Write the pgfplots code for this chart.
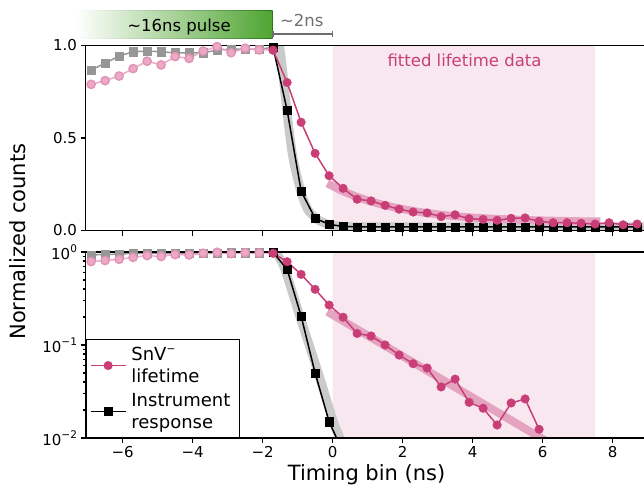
\documentclass[border=0pt]{standalone}
\usepackage{fontspec}
\setmainfont{DejaVu Sans}
\usepackage{pgfplots}
\pgfplotsset{compat=1.18}

\definecolor{pinkdark}{RGB}{201,62,119}
\definecolor{pinklight}{RGB}{236,170,198}
\definecolor{pinkedge}{RGB}{226,148,183}
\definecolor{graysq}{RGB}{150,150,150}
\definecolor{regionpink}{RGB}{249,231,239}
\definecolor{bandpink}{RGB}{228,163,192}
\definecolor{bandgray}{RGB}{202,202,202}
\definecolor{boxgreen}{RGB}{80,165,50}
\definecolor{boxedge}{RGB}{40,120,25}
\definecolor{annogray}{RGB}{110,110,110}

\newcommand{\sups}[1]{\raisebox{0.45em}{\fontsize{10.5}{10.5}\selectfont #1}}

\pgfplotsset{
  panel/.style={
    scale only axis, width=562.1pt, xmin=-7.06, xmax=9.0,
    axis on top,
    axis line style={line width=1.5pt},
    tick style={line width=1.1pt, black},
    major tick length=5pt, minor tick length=3pt,
    tick align=outside, tick pos=left,
    xtick={-6,-4,-2,0,2,4,6,8},
    tick label style={font=\fontsize{15}{18}\selectfont},
  },
  irf/.style={black, line width=1.5pt, mark=square*, mark size=4.1pt, mark options={line width=0.4pt}},
  snv/.style={pinkdark, line width=1.5pt, mark=*, mark size=4.3pt, mark options={line width=0.4pt}},
  pre/.style={line width=1.5pt, mark size=4.1pt, mark options={line width=0.6pt}},
}

\begin{document}
\begin{tikzpicture}

% upper panel, linear scale
\begin{axis}[panel, at={(85.5pt,-45.5pt)}, anchor=north west, height=185pt,
  ymin=0, ymax=1, ytick={0,0.5,1}, yticklabels={0.0,0.5,1.0}, xticklabels={}]
\addplot[draw=none, fill=regionpink, forget plot] coordinates {(0,0) (7.5,0) (7.5,1) (0,1) (0,0)};
\addplot[bandgray, line width=9pt, smooth, tension=0.4, forget plot] coordinates {
  (-1.85,1.2) (-1.52,1.0) (-1.31,0.65) (-1.14,0.40) (-0.91,0.213) (-0.70,0.11)
  (-0.41,0.057) (-0.08,0.03) (0.3,0.022) (1.0,0.02) (9.0,0.02)};
\addplot[bandpink, line width=8pt, forget plot] coordinates {
  (-0.15,0.255) (0.25,0.216) (0.65,0.185) (1.05,0.159) (1.45,0.138) (1.85,0.121)
  (2.25,0.107) (2.65,0.095) (3.05,0.086) (3.45,0.078) (3.85,0.072) (4.25,0.067)
  (4.65,0.063) (5.05,0.060) (5.45,0.057) (5.85,0.055) (6.25,0.053) (6.65,0.0515)
  (7.05,0.050) (7.45,0.049) (7.65,0.049)};
\addplot[pre, graysq, mark=square*, forget plot] coordinates {
  (-6.9,0.868) (-6.5,0.904) (-6.1,0.943) (-5.7,0.966) (-5.3,0.970) (-4.9,0.966)
  (-4.5,0.960) (-4.1,0.960) (-3.7,0.960) (-3.3,0.976) (-2.9,0.980) (-2.5,0.980)
  (-2.1,0.980) (-1.7,0.990)};
\addplot[pre, pinklight, mark=*, mark options={fill=pinklight, draw=pinkedge}, forget plot] coordinates {
  (-6.9,0.790) (-6.5,0.810) (-6.1,0.835) (-5.7,0.875) (-5.3,0.915) (-4.9,0.895)
  (-4.5,0.940) (-4.1,0.930) (-3.7,0.970) (-3.3,0.994) (-2.9,0.961) (-2.5,0.985)
  (-2.1,0.976) (-1.7,0.976)};
\addplot[irf, forget plot] coordinates {
  (-1.7,0.99) (-1.3,0.651) (-0.9,0.213) (-0.5,0.066) (-0.1,0.033) (0.3,0.022)
  (0.7,0.02) (1.1,0.02) (1.5,0.02) (1.9,0.02) (2.3,0.02) (2.7,0.02) (3.1,0.02)
  (3.5,0.02) (3.9,0.02) (4.3,0.02) (4.7,0.02) (5.1,0.02) (5.5,0.02) (5.9,0.02)
  (6.3,0.02) (6.7,0.02) (7.1,0.02) (7.5,0.02) (7.9,0.02) (8.3,0.02) (8.7,0.02)};
\addplot[snv, forget plot] coordinates {
  (-1.7,0.975) (-1.3,0.80) (-0.9,0.585) (-0.5,0.417) (-0.1,0.296) (0.3,0.228)
  (0.7,0.169) (1.1,0.160) (1.5,0.136) (1.9,0.115) (2.3,0.100) (2.7,0.095)
  (3.1,0.075) (3.5,0.085) (3.9,0.064) (4.3,0.060) (4.7,0.055) (5.1,0.066)
  (5.5,0.068) (5.9,0.050) (6.3,0.042) (6.7,0.042) (7.1,0.039) (7.5,0.035)
  (7.9,0.042) (8.3,0.031) (8.7,0.035)};
\node[anchor=base, text=pinkdark, font=\fontsize{16.5}{19}\selectfont] at (axis cs:3.77,0.885) {fitted lifetime data};
\end{axis}

% lower panel, log scale
\begin{axis}[panel, at={(85.5pt,-252pt)}, anchor=north west, height=186pt,
  ymode=log, ymin=0.01, ymax=1, ytick={0.01,0.1,1},
  yticklabels={10\sups{−2},10\sups{−1},10\sups{0}},
  xticklabels={−6,−4,−2,0,2,4,6,8},
  xlabel={Timing bin (ns)},
  xlabel style={font=\fontsize{21}{25}\selectfont},
  legend style={at={(0,0)}, anchor=south west, draw=black, line width=0.8pt, fill=white,
    inner xsep=4pt, inner ysep=7pt, row sep=7pt,
    nodes={font=\fontsize{18}{22}\selectfont, inner xsep=5pt, inner ysep=1pt},
    cells={align=left, anchor=west}},
  legend cell align=left,
  legend image code/.code={\draw[mark repeat=2,mark phase=2,#1,line width=1.5pt] plot coordinates {(0pt,0pt) (17.5pt,0pt) (35pt,0pt)};}]
\addlegendimage{snv}
\addlegendentry{SnV\sups{−}\\lifetime}
\addlegendimage{irf}
\addlegendentry{Instrument\\response}
\addplot[draw=none, fill=regionpink, forget plot] coordinates {(0,0.01) (7.5,0.01) (7.5,1) (0,1) (0,0.01)};
\addplot[bandgray, line width=9pt, smooth, tension=0.4, forget plot] coordinates {
  (-1.8,1.2) (-1.55,0.9) (-1.36,0.65) (-0.93,0.2) (-0.41,0.05) (0.02,0.015)
  (0.19,0.0104) (0.4,0.006)};
\addplot[bandpink, line width=8pt, forget plot] coordinates {(-0.15,0.228) (7.65,0.0042)};
\addplot[pre, graysq, mark=square*, forget plot] coordinates {
  (-6.9,0.93) (-6.5,0.94) (-6.1,0.95) (-5.7,0.966) (-5.3,0.970) (-4.9,0.966)
  (-4.5,0.960) (-4.1,0.960) (-3.7,0.960) (-3.3,0.976) (-2.9,0.980) (-2.5,0.980)
  (-2.1,0.980) (-1.7,0.990)};
\addplot[pre, pinklight, mark=*, mark options={fill=pinklight, draw=pinkedge}, forget plot] coordinates {
  (-6.9,0.790) (-6.5,0.810) (-6.1,0.835) (-5.7,0.875) (-5.3,0.915) (-4.9,0.895)
  (-4.5,0.940) (-4.1,0.930) (-3.7,0.970) (-3.3,0.994) (-2.9,0.961) (-2.5,0.985)
  (-2.1,0.976) (-1.7,0.976)};
\addplot[irf, forget plot] coordinates {
  (-1.7,0.99) (-1.3,0.652) (-0.9,0.205) (-0.5,0.050) (-0.1,0.015) (0.3,0.007)};
\addplot[snv, forget plot] coordinates {
  (-1.7,0.97) (-1.3,0.787) (-0.9,0.575) (-0.5,0.397) (-0.1,0.269) (0.3,0.199)
  (0.7,0.133) (1.1,0.125) (1.5,0.100) (1.9,0.078) (2.3,0.063) (2.7,0.0566)
  (3.1,0.0354) (3.5,0.043) (3.9,0.0242) (4.3,0.0209) (4.7,0.0138) (5.1,0.0238)
  (5.5,0.0263) (5.9,0.0124)};
\end{axis}

\node[rotate=90, font=\fontsize{21}{25}\selectfont] at (18pt,-241.7pt) {Normalized counts};

% pulse annotation above the upper panel
\shade[left color=white, right color=boxedge] (75pt,-10.7pt) rectangle (272.7pt,-39pt);
\shade[left color=white, right color=boxgreen] (76.2pt,-11.9pt) rectangle (271.5pt,-37.8pt);
\node[anchor=base, font=\fontsize{16.5}{19}\selectfont] at (179pt,-31.5pt) {\textasciitilde16ns pulse};
\draw[annogray, line width=1.5pt] (273.2pt,-31.3pt) -- (273.2pt,-36.7pt)
  (273.2pt,-34pt) -- (332.7pt,-34pt) (332.7pt,-31.3pt) -- (332.7pt,-36.7pt);
\node[anchor=base, text=annogray, font=\fontsize{16.5}{19}\selectfont] at (301.7pt,-26.7pt) {\textasciitilde2ns};

\pgfresetboundingbox
\useasboundingbox (0pt,0pt) rectangle (644pt,-495pt);
\end{tikzpicture}
\end{document}
